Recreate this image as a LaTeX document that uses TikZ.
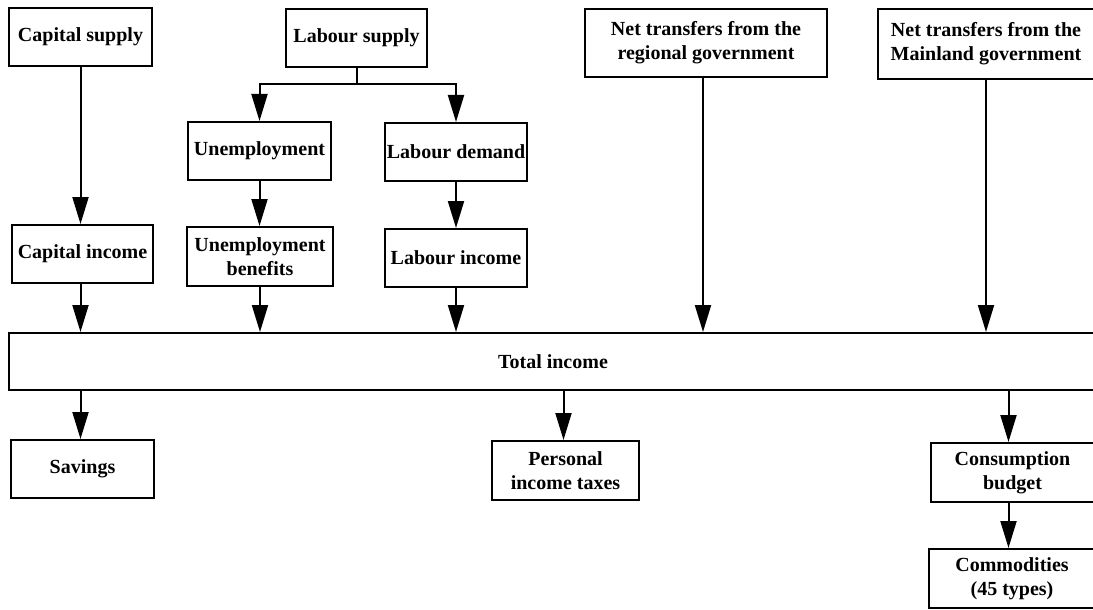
\documentclass[tikz,border=0pt]{standalone}
\usepackage{fontspec}
\setmainfont{Liberation Serif}
\usetikzlibrary{arrows.meta}
\tikzset{
  box/.style={draw, line width=2pt, align=center, inner sep=0pt,
    minimum width=143pt, minimum height=58pt,
    font=\bfseries\fontsize{20}{24}\selectfont},
  arr/.style={line width=2pt, -{Triangle[length=27pt,width=16pt]}},
  link/.style={line width=2pt}
}
\begin{document}
\begin{tikzpicture}[x=1pt,y=-1pt]
      \useasboundingbox (0,0) rectangle (1093,610);
      % upper row
      \node[box] (capsup) at (80.5,37) {Capital supply};
      \node[box, minimum width=141pt] (labsup) at (356.5,38) {Labour supply};
      \node[box, minimum width=242pt, minimum height=68pt] (netreg) at (706,43)
        {Net transfers from the\\regional government};
      \node[box, minimum width=216pt, minimum height=70pt] (netmain) at (986,44)
        {Net transfers from the\\Mainland government};
      % labour branches
      \node[box] (unemp) at (259.5,151) {Unemployment};
      \node[box, minimum width=142pt] (labdem) at (456,152) {Labour demand};
      \node[box, minimum width=141pt] (capinc) at (82.5,254) {Capital income};
      \node[box, minimum width=146pt, minimum height=59pt] (unben) at (260,256.5)
        {Unemployment\\benefits};
      \node[box, minimum width=142pt] (labinc) at (456,258) {Labour income};
      % total and uses
      \node[box, minimum width=1088pt, minimum height=57pt] (total) at (553,361.5)
        {Total income};
      \node[box] (savings) at (82.5,469) {Savings};
      \node[box, minimum width=147pt, minimum height=59pt] (pit) at (565.5,470.5)
        {Personal\\income taxes};
      \node[box, minimum width=163pt, minimum height=59pt] (consb) at (1012.5,472.5)
        {Consumption\\budget};
      \node[box, minimum width=166pt, minimum height=59pt] (commod) at (1012,578.5)
        {Commodities\\(45 types)};
      \coordinate (split) at ([yshift=-16pt]labsup.south);
      \begin{scope}
        \draw[arr] (capsup.south) to (capsup.south |- capinc.north);
        \draw[link] (labsup.south) to (split);
        \draw[arr] (split) -| (unemp.north);
        \draw[arr] (split) -| (labdem.north);
        \draw[arr] (unemp.south) to (unemp.south |- unben.north);
        \draw[arr] (labdem) to (labinc);
        \draw[arr] (capsup.south |- capinc.south) to (capsup.south |- total.north);
        \draw[arr] (unben.south) to (unben.south |- total.north);
        \draw[arr] (labinc.south) to (labinc.south |- total.north);
        \draw[arr] ([xshift=-3pt]netreg.south) to ([xshift=-3pt]netreg.south |- total.north);
        \draw[arr] (netmain.south) to (netmain.south |- total.north);
        \draw[arr] (capsup.south |- total.south) to (capsup.south |- savings.north);
        \draw[arr] ([xshift=-2pt]pit.north |- total.south) to ([xshift=-2pt]pit.north);
        \draw[arr] ([xshift=-4pt]consb.north |- total.south) to ([xshift=-4pt]consb.north);
        \draw[arr] ([xshift=-4pt]consb.south) to ([xshift=-4pt]consb.south |- commod.north);
      \end{scope}
    \end{tikzpicture}
\end{document}
